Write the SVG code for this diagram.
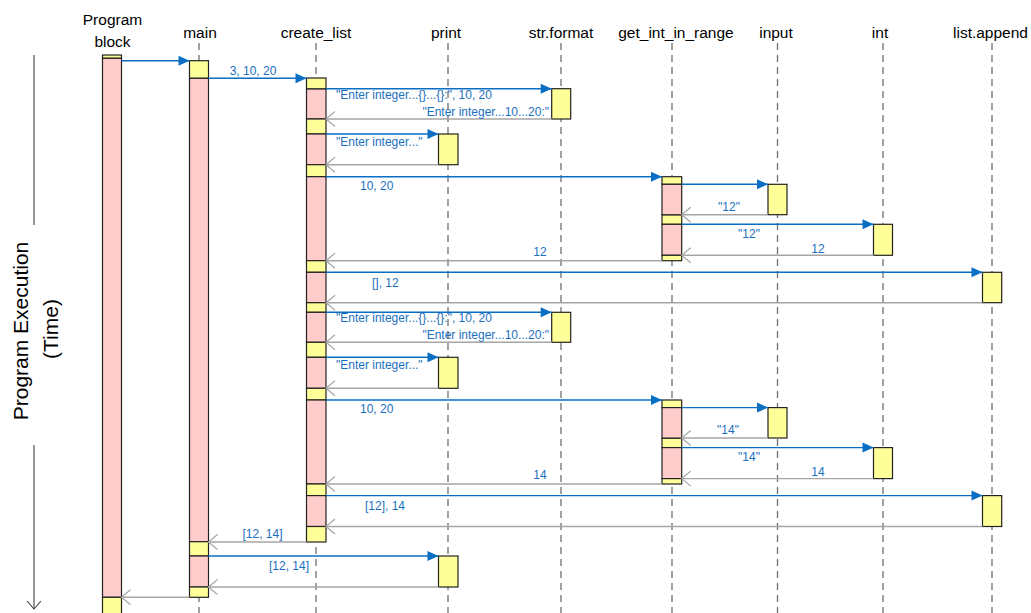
<svg xmlns="http://www.w3.org/2000/svg" width="1031" height="613" viewBox="0 0 1031 613">
<style>
.hdr{font-family:"Liberation Sans",Arial,sans-serif;font-size:15.5px;fill:#000;text-anchor:middle}
.ax{font-family:"Liberation Sans",Arial,sans-serif;font-size:21px;fill:#000;text-anchor:middle}
.lbl{font-family:"Liberation Sans",Arial,sans-serif;font-size:12px;fill:#1a70c0}
.mid{text-anchor:middle}
.end{text-anchor:end}
.life{stroke:#707070;stroke-width:1.3;stroke-dasharray:7 5;fill:none}
.call{stroke:#0a6fc2;stroke-width:1.4;fill:none;marker-end:url(#fa)}
.ret{stroke:#a6a6a6;stroke-width:1.4;fill:none;marker-end:url(#oa)}
.p{fill:#ffcccc;stroke:#222;stroke-width:1.2}
.y{fill:#ffff99;stroke:#222;stroke-width:1.2}
.axis{stroke:#404040;stroke-width:1.1;fill:none}
</style>
<defs>
<marker id="fa" markerUnits="userSpaceOnUse" markerWidth="11" markerHeight="10" viewBox="0 0 11 10" refX="11" refY="5" orient="auto" overflow="visible">
<path d="M0,0 L11,5 L0,10 z" fill="#0a6fc2"/>
</marker>
<marker id="oa" markerUnits="userSpaceOnUse" markerWidth="10" markerHeight="16" viewBox="0 0 10 16" refX="9" refY="8" orient="auto" overflow="visible">
<path d="M0,0.5 L9,8 L0,15.5" fill="none" stroke="#a6a6a6" stroke-width="1.2"/>
</marker>
</defs>

<g id="axis">
<line class="axis" x1="34" y1="55" x2="34" y2="225"/>
<line class="axis" x1="34" y1="445" x2="34" y2="609"/>
<path class="axis" d="M27,601 L34,609 L41,601"/>
<text class="ax" transform="translate(27.5,331) rotate(-90)">Program Execution</text>
<text class="ax" transform="translate(58,329) rotate(-90)">(Time)</text>
</g>

<g id="program-block">
<text class="hdr" x="112.5" y="25">Program</text>
<text class="hdr" x="112.5" y="46.5">block</text>
<rect class="y" x="102.5" y="55" width="19" height="3.3"/>
<rect class="p" x="102.5" y="58.3" width="19" height="539"/>
<rect class="y" x="102.5" y="597.3" width="19" height="25"/>
</g>

<g id="main">
<text class="hdr" x="200" y="38">main</text>
<line class="life" x1="199" y1="43" x2="199" y2="613"/>
<rect class="y" x="189.5" y="60.7" width="19" height="17.6"/>
<rect class="p" x="189.5" y="78.3" width="19" height="463.4"/>
<rect class="y" x="189.5" y="541.7" width="19" height="14.3"/>
<rect class="p" x="189.5" y="556" width="19" height="31"/>
<rect class="y" x="189.5" y="587" width="19" height="10.3"/>
</g>

<g id="create_list">
<text class="hdr" x="316" y="38">create_list</text>
<line class="life" x1="316" y1="43" x2="316" y2="613"/>
<rect class="y" x="306.5" y="78" width="19.5" height="11"/>
<rect class="p" x="306.5" y="89" width="19.5" height="30"/>
<rect class="y" x="306.5" y="119" width="19.5" height="15"/>
<rect class="p" x="306.5" y="134" width="19.5" height="30.7"/>
<rect class="y" x="306.5" y="164.7" width="19.5" height="12"/>
<rect class="p" x="306.5" y="176.7" width="19.5" height="84"/>
<rect class="y" x="306.5" y="260.7" width="19.5" height="11.6"/>
<rect class="p" x="306.5" y="272.3" width="19.5" height="30.4"/>
<rect class="y" x="306.5" y="302.7" width="19.5" height="9.6"/>
<rect class="p" x="306.5" y="312.3" width="19.5" height="30"/>
<rect class="y" x="306.5" y="342.3" width="19.5" height="15"/>
<rect class="p" x="306.5" y="357.3" width="19.5" height="31"/>
<rect class="y" x="306.5" y="388.3" width="19.5" height="11.7"/>
<rect class="p" x="306.5" y="400" width="19.5" height="84"/>
<rect class="y" x="306.5" y="484" width="19.5" height="11.6"/>
<rect class="p" x="306.5" y="495.6" width="19.5" height="30.9"/>
<rect class="y" x="306.5" y="526.5" width="19.5" height="15.5"/>
</g>

<g id="print">
<text class="hdr" x="446" y="38">print</text>
<line class="life" x1="448" y1="43" x2="448" y2="613"/>
<rect class="y" x="438.5" y="134" width="19.5" height="30.7"/>
<rect class="y" x="438.5" y="357.3" width="19.5" height="31"/>
<rect class="y" x="438.5" y="556" width="19.5" height="31"/>
</g>

<g id="str.format">
<text class="hdr" x="561" y="38">str.format</text>
<line class="life" x1="561" y1="43" x2="561" y2="613"/>
<rect class="y" x="551.7" y="88.7" width="19" height="30.3"/>
<rect class="y" x="551.7" y="312.3" width="19" height="30"/>
</g>

<g id="get_int_in_range">
<text class="hdr" x="676" y="38">get_int_in_range</text>
<line class="life" x1="672" y1="43" x2="672" y2="613"/>
<rect class="y" x="662" y="176.7" width="19.7" height="7.6"/>
<rect class="p" x="662" y="184.3" width="19.7" height="30.7"/>
<rect class="y" x="662" y="215" width="19.7" height="9.3"/>
<rect class="p" x="662" y="224.3" width="19.7" height="31"/>
<rect class="y" x="662" y="255.3" width="19.7" height="5.4"/>
<rect class="y" x="662" y="400" width="19.7" height="7.6"/>
<rect class="p" x="662" y="407.6" width="19.7" height="30.7"/>
<rect class="y" x="662" y="438.3" width="19.7" height="9.3"/>
<rect class="p" x="662" y="447.6" width="19.7" height="31"/>
<rect class="y" x="662" y="478.6" width="19.7" height="5.4"/>
</g>

<g id="input">
<text class="hdr" x="776" y="38">input</text>
<line class="life" x1="777.5" y1="43" x2="777.5" y2="613"/>
<rect class="y" x="768" y="184.3" width="19" height="30.4"/>
<rect class="y" x="768" y="407.6" width="19" height="30.4"/>
</g>

<g id="int">
<text class="hdr" x="880" y="38">int</text>
<line class="life" x1="883" y1="43" x2="883" y2="613"/>
<rect class="y" x="873.5" y="224.3" width="19" height="31"/>
<rect class="y" x="873.5" y="447.6" width="19" height="31"/>
</g>

<g id="list.append">
<text class="hdr" x="990.5" y="38">list.append</text>
<line class="life" x1="992" y1="43" x2="992" y2="613"/>
<rect class="y" x="982.5" y="272.3" width="19.2" height="30.4"/>
<rect class="y" x="982.5" y="495.6" width="19.2" height="30.9"/>
</g>

<g id="connectors">
<line class="call" x1="121.5" y1="60.7" x2="189.5" y2="60.7"/>
<line class="call" x1="208.5" y1="78.3" x2="306.5" y2="78.3"/>
<line class="call" x1="326" y1="88.7" x2="551.7" y2="88.7"/>
<line class="ret" x1="551.7" y1="119" x2="326" y2="119"/>
<line class="call" x1="326" y1="134" x2="438.5" y2="134"/>
<line class="ret" x1="438.5" y1="164.7" x2="326" y2="164.7"/>
<line class="call" x1="326" y1="176.7" x2="662" y2="176.7"/>
<line class="call" x1="681.7" y1="184.3" x2="768" y2="184.3"/>
<line class="ret" x1="768" y1="214.7" x2="681.7" y2="214.7"/>
<line class="call" x1="681.7" y1="224.3" x2="873.5" y2="224.3"/>
<line class="ret" x1="873.5" y1="255.3" x2="681.7" y2="255.3"/>
<line class="ret" x1="662" y1="260.7" x2="326" y2="260.7"/>
<line class="call" x1="326" y1="272.3" x2="982.5" y2="272.3"/>
<line class="ret" x1="982.5" y1="302.7" x2="326" y2="302.7"/>
<line class="call" x1="326" y1="312.3" x2="551.7" y2="312.3"/>
<line class="ret" x1="551.7" y1="342.3" x2="326" y2="342.3"/>
<line class="call" x1="326" y1="357.3" x2="438.5" y2="357.3"/>
<line class="ret" x1="438.5" y1="388.3" x2="326" y2="388.3"/>
<line class="call" x1="326" y1="400" x2="662" y2="400"/>
<line class="call" x1="681.7" y1="407.6" x2="768" y2="407.6"/>
<line class="ret" x1="768" y1="438" x2="681.7" y2="438"/>
<line class="call" x1="681.7" y1="447.6" x2="873.5" y2="447.6"/>
<line class="ret" x1="873.5" y1="478.6" x2="681.7" y2="478.6"/>
<line class="ret" x1="662" y1="484" x2="326" y2="484"/>
<line class="call" x1="326" y1="495.6" x2="982.5" y2="495.6"/>
<line class="ret" x1="982.5" y1="526.5" x2="326" y2="526.5"/>
<line class="ret" x1="306.5" y1="542" x2="208.5" y2="542"/>
<line class="call" x1="208.5" y1="556" x2="438.5" y2="556"/>
<line class="ret" x1="438.5" y1="587" x2="208.5" y2="587"/>
<line class="ret" x1="189.5" y1="597.3" x2="121.5" y2="597.3"/>

<text class="lbl mid" x="253" y="74.5">3, 10, 20</text>
<text class="lbl" x="336" y="99">"Enter integer...{}...{}:", 10, 20</text>
<text class="lbl end" x="549" y="115.5">"Enter integer...10...20:"</text>
<text class="lbl" x="336" y="145.5">"Enter integer..."</text>
<text class="lbl" x="360" y="190">10, 20</text>
<text class="lbl mid" x="729" y="210.5">"12"</text>
<text class="lbl mid" x="749" y="238">"12"</text>
<text class="lbl mid" x="818" y="252.5">12</text>
<text class="lbl mid" x="540" y="256">12</text>
<text class="lbl" x="372" y="287">[], 12</text>
<text class="lbl" x="336" y="322.3">"Enter integer...{}...{}:", 10, 20</text>
<text class="lbl end" x="549" y="338.8">"Enter integer...10...20:"</text>
<text class="lbl" x="336" y="368.8">"Enter integer..."</text>
<text class="lbl" x="360" y="413.3">10, 20</text>
<text class="lbl mid" x="728" y="433.8">"14"</text>
<text class="lbl mid" x="749" y="461.3">"14"</text>
<text class="lbl mid" x="818" y="476">14</text>
<text class="lbl mid" x="540" y="479">14</text>
<text class="lbl" x="365" y="510">[12], 14</text>
<text class="lbl mid" x="262.5" y="538">[12, 14]</text>
<text class="lbl mid" x="289" y="569.5">[12, 14]</text>
</g>
</svg>
